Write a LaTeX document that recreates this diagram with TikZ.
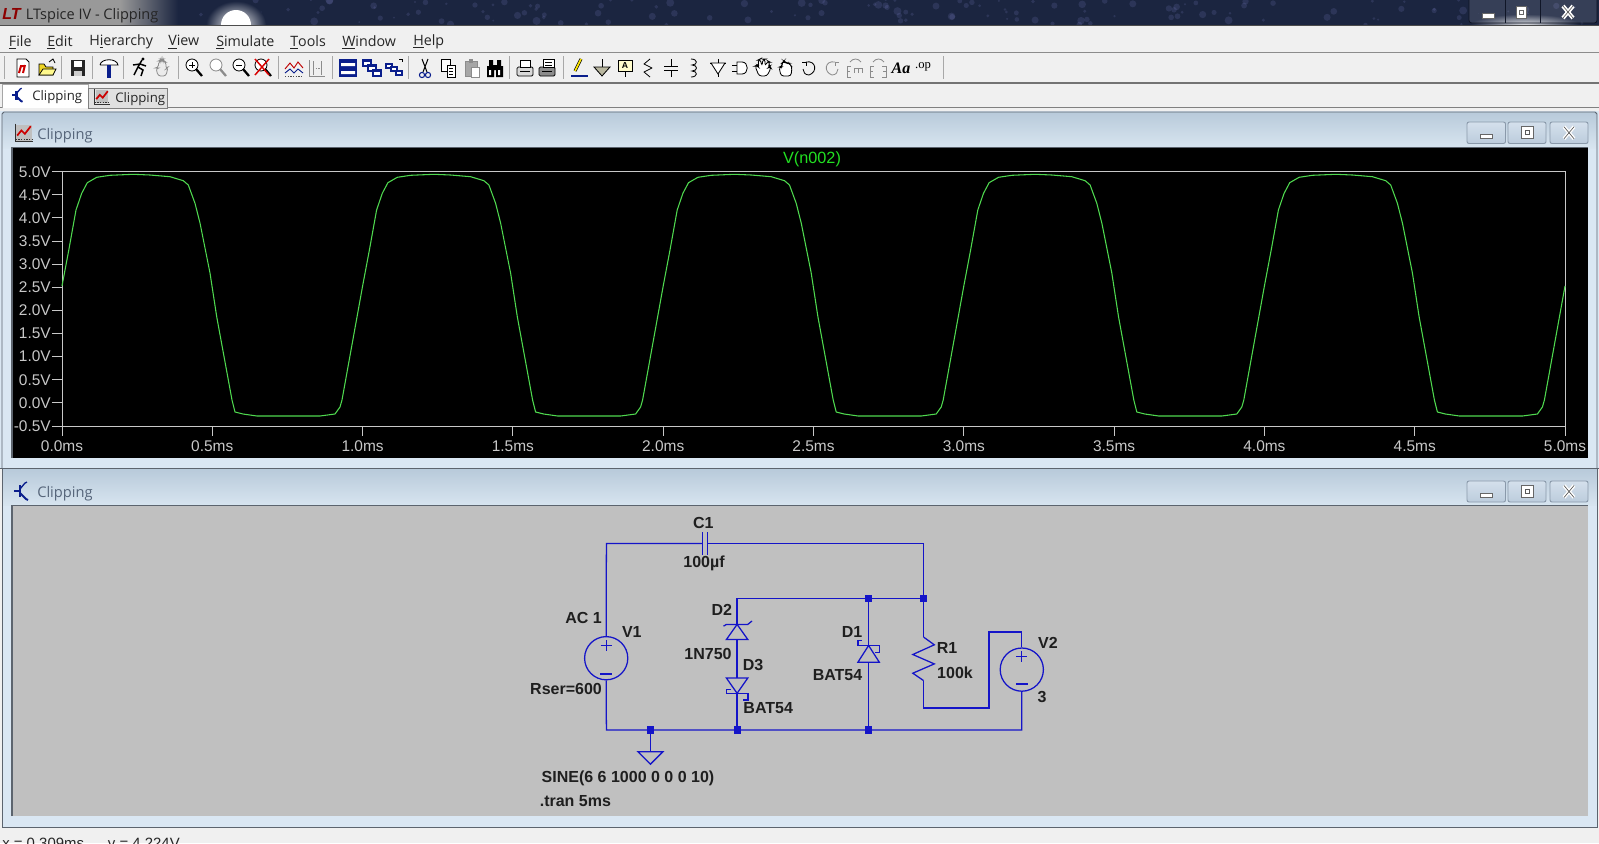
\documentclass[tikz,border=0pt]{standalone}
\usepackage{fontspec}
\setmainfont{Liberation Sans}
\newfontfamily\uifont{Open Sans}
\newfontfamily\serifui{Liberation Serif}
\usetikzlibrary{shapes.geometric,calc}
\definecolor{navy}{HTML}{1B2540}
\definecolor{chrome}{HTML}{F0F0F0}
\definecolor{capTop}{HTML}{B8CADA}
\definecolor{capBot}{HTML}{D8E5F0}
\definecolor{frameC}{HTML}{DAE7F3}
\definecolor{edgeC}{HTML}{5C646E}
\definecolor{capText}{HTML}{56657A}
\definecolor{axisC}{HTML}{C8C8C8}
\definecolor{waveC}{HTML}{4FD84F}
\definecolor{traceC}{HTML}{22E022}
\definecolor{wireC}{HTML}{1414C8}
\definecolor{canvasC}{HTML}{C0C0C0}
\definecolor{btnTop}{HTML}{D4E0EC}
\definecolor{btnBot}{HTML}{BCCCDC}
\definecolor{btnEdge}{HTML}{8A99AA}
\definecolor{sepC}{HTML}{A8A8A8}
\definecolor{icoBlue}{HTML}{0A1E8C}
\tikzset{
  lbl/.style={font=\fontsize{12}{14}\selectfont\bfseries,text=black!88,inner sep=0pt},
  axlbl/.style={font=\fontsize{11.6}{14}\selectfont,text=axisC,inner sep=0pt},
  menulbl/.style={font=\uifont\fontsize{10.7}{13}\selectfont,text=black!85,inner sep=0pt,anchor=west},
  caplbl/.style={font=\uifont\fontsize{11}{13}\selectfont,text=capText,inner sep=0pt,anchor=west},
  tablbl/.style={font=\uifont\fontsize{9.9}{12}\selectfont,text=black!85,inner sep=0pt,anchor=west},
  wire/.style={draw=wireC,line width=.95pt},
  dot/.style={fill=wireC,draw=none,minimum size=5.4pt,inner sep=0pt,rectangle},
  srcnode/.style={circle,draw=wireC,line width=.95pt,minimum size=32.4pt,inner sep=0pt},
  wave/.style={draw=waveC,line width=.8pt,line join=round},
  tickline/.style={draw=axisC,line width=.75pt},
  ibk/.style={draw=black,line width=.62pt},
  igr/.style={draw=black!45,line width=.62pt},
}
\newcommand{\winbtn}[5]{\path[draw=btnEdge,line width=.7pt,rounded corners=1.5pt,top color=btnTop,bottom color=btnBot] (#1,#3) rectangle (#2,#4);
  \begin{scope}[shift={({(#1+#2)/2},{(#3+#4)/2})}]#5\end{scope}}
\newcommand{\ico}[2]{\begin{scope}[shift={(#1,68)}]#2\end{scope}}
\newcommand{\glassMin}{\fill[white,draw=black!60,line width=.5pt] (-6,1) rectangle (6,6);}
\newcommand{\glassMax}{\fill[white,draw=black!60,line width=.5pt] (-5,-6) rectangle (5,6);\draw[black!60,line width=.6pt] (-2,-2) rectangle (2,2);}
\newcommand{\glassX}{\draw[white,line width=3pt] (-5,-6)--(5,6) (5,-6)--(-5,6);\draw[black!65,line width=.5pt] (-5,-6)--(5,6) (5,-6)--(-5,6);}
\newcommand{\sicon}{\fill[black!25] (-9,-10) rectangle (9,9);
  \draw[black!80,line width=.9pt] (-10,-11)--(-10,10)--(11,10);
  \draw[black!80,line width=.6pt,dash pattern=on 1pt off 1pt] (-10,8)--(11,8);
  \draw[red!80!black,line width=1.3pt] (-8,3)--(-3,-3)--(1,1)--(8,-8);}
\newcommand{\ticon}{\draw[icoBlue,line width=1.5pt] (-8,0)--(-2,0);
  \draw[icoBlue,line width=1.6pt] (-2,-6)--(-2,6);
  \draw[icoBlue,line width=1pt] (-2,-2)--(3,-8)--(5,-9);
  \draw[icoBlue,line width=1.4pt] (-2,2)--(4,8)--(6,9);}
\begin{document}
\begin{tikzpicture}[x=.75pt,y=-.75pt]
\useasboundingbox (0,0) rectangle (1599,843);
\clip (0,0) rectangle (1599,843);
% ---- overall background
\fill[chrome] (0,0) rectangle (1599,843);
% ---- title bar
\fill[navy] (0,0) rectangle (1599,25);
\begin{scope}
\clip (0,0) rectangle (1599,25);
\pgfmathsetseed{11}
\foreach \i in {1,...,170}{
  \pgfmathsetmacro\ax{rnd*1599}
  \pgfmathsetmacro\ay{rnd*25}
  \pgfmathsetmacro\ar{1+rnd*3}
  \fill[blue!35!white,opacity=.13] (\ax,\ay) circle[radius=\ar];
}
\fill[black!40] (0,0) rectangle (120,25);
\shade[left color=black!40,right color=navy] (120,0) rectangle (178,25);
\shade[inner color=white,outer color=navy] (236,25) ellipse[x radius=30,y radius=24];
\fill[white] (236,25) ellipse[x radius=15,y radius=15];
\shade[inner color=white!85!navy,outer color=navy] (1470,14) rectangle (1580,36);
\end{scope}
\node[inner sep=0pt,anchor=west,text=red!55!black,font=\fontsize{12}{14}\selectfont\bfseries\itshape] (logo) at (2,14) {LT};
\node[inner sep=0pt,anchor=west,text=black!85,font=\uifont\fontsize{10.9}{13}\selectfont] (title) at (25.5,15.5) {LTspice IV - Clipping};
\draw[black!70,line width=.8pt] (0,25.5)--(1599,25.5);
% main window buttons
\path[draw=black!45!navy,line width=.6pt,rounded corners=2pt,fill=white,fill opacity=.12] (1469,-3) rectangle (1597,23);
\draw[black!40!navy,line width=.5pt] (1505,0)--(1505,23) (1540,0)--(1540,23);
\begin{scope}[shift={(1488,12)}]\glassMin\end{scope}
\begin{scope}[shift={(1521,12)}]\glassMax\end{scope}
\begin{scope}[shift={(1568,12)}]\glassX\end{scope}
% ---- menu bar
\draw[black!45,line width=.8pt] (0,52.5)--(1599,52.5);
\node[menulbl] (mFile) at (8.7,42) {\underline{F}ile};
\node[menulbl] (mEdit) at (47,42) {\underline{E}dit};
\node[menulbl] (mHier) at (89,42) {H\underline{i}erarchy};
\node[menulbl] (mView) at (168,42) {\underline{V}iew};
\node[menulbl] (mSim) at (216,42) {\underline{S}imulate};
\node[menulbl] (mTools) at (290,42) {\underline{T}ools};
\node[menulbl] (mWin) at (342,42) {\underline{W}indow};
\node[menulbl] (mHelp) at (413,42) {\underline{H}elp};
% ---- toolbar
\draw[black!55,line width=.9pt] (0,83)--(1599,83);
\foreach \sx in {4,61,92,123,178,278,332,408,509,563,943}{\draw[sepC,line width=.7pt] (\sx,56)--(\sx,79);}
\ico{23}{\draw[ibk,fill=white] (-6,-9)--(3,-9)--(6,-6)--(6,9)--(-6,9)--cycle;\draw[red!80!black,line width=1.5pt] (-4,5)--(-2,-2)--(1,-2) (0,5)--(2,-3);}
\ico{47}{\draw[ibk,fill=yellow!70!brown] (-8,7)--(-8,-4)--(-3,-4)--(-1,-1)--(6,-1)--(6,7)--cycle;\draw[ibk,fill=yellow!45!white] (-8,7)--(-4,1)--(9,1)--(6,7)--cycle;\draw[ibk] (2,-6)--(6,-9)--(8,-5);}
\ico{78}{\fill[black!85] (-7,-8) rectangle (7,8);\fill[white] (-4,-7) rectangle (4,-1);\fill[black!20] (-4,3) rectangle (4,8);}
\ico{109}{\draw[ibk,fill=white] (-9,-3) .. controls (-8,-10) and (8,-10) .. (9,-3) -- (-9,-3);\fill[icoBlue] (-1.8,-3) rectangle (1.8,10);}
\ico{139}{\draw[black,line width=1.1pt] (3,-8)--(-1,-1)--(-5,7) (-1,-1)--(4,2)--(2,8) (-6,-3)--(1,-4)--(7,-2);\fill (4,-9) circle[radius=1.6];}
\ico{162}{\draw[igr,fill=black!8,rounded corners=2pt] (-4,8)--(-6,0)--(-4,0)--(-3,-7)--(-1,-7)--(-1,-9)--(1,-9)--(1,-7)--(4,-6)--(4,1)--(6,-1)--(4,8)--cycle;}
\ico{194}{\draw[ibk,fill=white] (-2,-3) circle[radius=6];\draw[black,line width=1.7pt] (2,1)--(8,8);\draw[black,line width=.6pt] (-5,-3)--(1,-3) (-2,-6)--(-2,0);}
\ico{218}{\draw[igr,fill=white] (-2,-3) circle[radius=6];\draw[black!45,line width=1.7pt] (2,1)--(8,8);}
\ico{241}{\draw[ibk,fill=white] (-2,-3) circle[radius=6];\draw[black,line width=1.7pt] (2,1)--(8,8);\draw[black,line width=.6pt] (-5,-3)--(1,-3);}
\ico{263}{\draw[ibk,fill=white] (-2,-3) circle[radius=6];\draw[black,line width=1.7pt] (2,1)--(8,8);\draw[red!85!black,line width=1.1pt] (-8,-9)--(6,7) (6,-9)--(-8,7);}
\ico{294}{\draw[black!70,line width=.7pt,dash pattern=on 1pt off 1pt] (-9,8)--(9,8);\draw[red!75!black,line width=.7pt] (-9,1)--(-4,-5)--(0,0)--(4,-6)--(9,0);\draw[icoBlue,line width=.7pt] (-9,5)--(-4,1)--(0,5)--(4,1)--(9,5);}
\ico{317}{\draw[igr] (-8,-8)--(-8,8)--(8,8) (-4,-7)--(-4,7) (4,-7)--(4,7);\draw[igr,dash pattern=on 1pt off 1pt] (-4,0)--(4,0);}
\ico{348}{\fill[icoBlue] (-9,-9) rectangle (9,9);\fill[white] (-7,-5) rectangle (7,-2) (-7,3) rectangle (7,6);}
\ico{371}{\foreach \d in {0,5,10}{\fill[icoBlue] (-9+\d,-9+\d) rectangle (1+\d,-1+\d);\fill[white] (-7+\d,-6+\d) rectangle (-1+\d,-3+\d);}}
\ico{394}{\foreach \d in {0,5,10}{\fill[icoBlue] (-9+\d,-5+\d/1.5) rectangle (-1+\d,1+\d/1.5);\fill[white] (-7+\d,-3+\d/1.5) rectangle (-3+\d,-1+\d/1.5);}\draw[black,line width=.7pt] (5,-9)--(8,-9)--(8,-6);}
\ico{425}{\draw[black,line width=.75pt] (-3,-9)--(2,4) (3,-9)--(-2,4);\draw[icoBlue,line width=.8pt] (-3,7) circle[radius=2.6] (3,7) circle[radius=2.6];}
\ico{448}{\draw[ibk,fill=white] (-7,-9) rectangle (2,3);\draw[ibk,fill=white] (-1,-3) rectangle (7,9);\draw[black,line width=.5pt] (1,0)--(5,0) (1,3)--(5,3) (1,6)--(5,6);}
\ico{472}{\draw[igr,fill=black!35] (-7,-7) rectangle (5,8);\draw[igr,fill=white] (-1,-1) rectangle (7,9);\fill[black!45] (-3,-9) rectangle (1,-5);}
\ico{495}{\fill[black] (-8,-2) rectangle (-1,9) (1,-2) rectangle (8,9) (-6,-8) rectangle (-2,-2) (2,-8) rectangle (6,-2) (-2,-3) rectangle (2,2);\fill[white] (-6,2) rectangle (-4,7) (3,2) rectangle (5,7);}
\ico{525}{\draw[ibk,fill=black!15,rounded corners=1pt] (-8,-1) rectangle (8,8);\draw[ibk,fill=white] (-5,-8) rectangle (5,-1);\draw[black,line width=.5pt] (-5,3)--(5,3);}
\ico{547}{\draw[ibk,fill=black!45,rounded corners=1pt] (-8,-1) rectangle (8,8);\draw[ibk,fill=white] (-4,-9) rectangle (7,-1);\draw[black,line width=.5pt] (-2,-6)--(5,-6) (-2,-3)--(5,-3) (-5,3)--(5,3);}
\ico{579}{\draw[black,line width=2.3pt] (-4,3)--(2,-9);\draw[yellow!90!orange,line width=1.3pt] (-4,3)--(2,-9);\draw[icoBlue,line width=.9pt] (-7,7)--(-7,8)--(9,8);}
\ico{602}{\draw[ibk] (0,-9)--(0,-1);\draw[ibk,fill=yellow!30!black!45] (-8,-1)--(8,-1)--(0,8)--cycle;}
\ico{625}{\draw[ibk,fill=yellow!20] (-7,-8) rectangle (7,3);\node[inner sep=0pt,font=\bfseries\fontsize{6.5}{7}\selectfont] (icoA) at (0,-2.5) {A};\draw[ibk] (0,3)--(0,9);}
\ico{648}{\draw[ibk,line join=round] (2,-9)--(-4,-4)--(4,0)--(-4,4)--(2,9);}
\ico{671}{\draw[ibk] (0,-9)--(0,-2) (-7,-2)--(7,-2) (-7,2)--(7,2) (0,2)--(0,9);}
\ico{693}{\draw[ibk] (-2,-9) .. controls (5,-9) and (5,-3) .. (-1,-3) .. controls (5,-3) and (5,3) .. (-1,3) .. controls (5,3) and (5,9) .. (-2,9);}
\ico{718}{\draw[ibk] (0,-9)--(0,9) (-8,-5)--(8,-5);\draw[ibk,fill=white] (-7,-5)--(7,-5)--(0,6)--cycle;}
\ico{740}{\draw[ibk,fill=white] (-3,-6)--(2,-6) .. controls (9,-6) and (9,6) .. (2,6) -- (-3,6) -- cycle;\draw[ibk] (-8,-3)--(-3,-3) (-8,3)--(-3,3);}
\ico{763}{\draw[ibk,fill=white,rounded corners=2pt] (-4,8)--(-8,-2)--(-6,-3)--(-4,0)--(-5,-8)--(-3,-9)--(-1,-2)--(0,-9)--(2,-9)--(2,-2)--(5,-7)--(7,-6)--(5,0)--(7,-2)--(8,0)--(4,8)--cycle;}
\ico{786}{\draw[ibk,fill=white,rounded corners=2pt] (-5,8)--(-7,-1)--(-4,-1)--(-4,-5)--(-2,-7)--(0,-5)--(3,-5)--(6,-1)--(5,8)--cycle;}
\ico{809}{\draw[ibk] (-3,-6) .. controls (7,-8) and (9,4) .. (0,7) .. controls (-4,7) and (-6,4) .. (-6,1);\draw[ibk] (-7,-6)--(-3,-6)--(-3,-2);}
\ico{832}{\draw[igr] (3,-6) .. controls (-7,-8) and (-9,4) .. (0,7) .. controls (4,7) and (6,4) .. (6,1);\draw[igr] (7,-6)--(3,-6)--(3,-2);}
\ico{855}{\draw[igr] (-8,9)--(-8,-2)--(-4,-2) (-8,3)--(-5,3) (-8,9)--(-4,9) (-1,0)--(7,0) (-1,0)--(-1,5) (3,0)--(3,5) (7,0)--(7,5);\draw[igr] (-5,-6) .. controls (-2,-10) and (3,-10) .. (6,-6);}
\ico{878}{\draw[igr] (-8,9)--(-8,-2)--(-4,-2) (-8,3)--(-5,3) (-8,9)--(-4,9) (4,-2)--(8,-2)--(8,9)--(4,9) (5,3)--(8,3);\draw[igr] (-5,-6) .. controls (-2,-10) and (3,-10) .. (6,-6);}
\node[inner sep=0pt,font=\serifui\fontsize{12}{13}\selectfont\bfseries\itshape,text=black] (icoAa) at (901,68.5) {Aa};
\node[inner sep=0pt,font=\serifui\fontsize{9.5}{11}\selectfont,text=black] (icoOp) at (923,67) {.op};
% ---- tabs
\draw[black!50,line width=.8pt] (0,107.5)--(1599,107.5);
\fill[white] (2,84) rectangle (88,108);
\draw[black!35,line width=.6pt] (2,108)--(2,84)--(88,84)--(88,108);
\path[draw=black!50,line width=.7pt,fill=black!12] (88,88) rectangle (167,108);
\begin{scope}[shift={(18,95)},scale=.75]\ticon\end{scope}
\begin{scope}[shift={(102,97)},scale=.72]\sicon\end{scope}
\node[tablbl] (tab1) at (32,97) {Clipping};
\node[tablbl] (tab2) at (115,99.5) {Clipping};
% ---- plot window
\fill[frameC] (0,111) rectangle (1599,468);
\path[top color=capTop,bottom color=capBot] (2,112) rectangle (1597,148);
\draw[edgeC,line width=.7pt] (2,468)--(2,114)--(4,112)--(1595,112)--(1597,114)--(1597,468);
\fill[black] (12,148) rectangle (1588,458);
\draw[edgeC,line width=.9pt] (12,458)--(12,147.5)--(1588,147.5);
\begin{scope}[shift={(24,133)},scale=.85]\sicon\end{scope}
\node[caplbl] (capA) at (37,136) {Clipping};
\winbtn{1467}{1505.5}{122}{143.5}{\fill[white,draw=black!60,line width=.5pt] (-6,2) rectangle (6,6);}
\winbtn{1508}{1546}{122}{143.5}{\fill[white,draw=black!60,line width=.5pt] (-6,-6) rectangle (6,6);\draw[black!65,line width=.7pt] (-2,-2) rectangle (2,2);}
\winbtn{1550}{1588}{122}{143.5}{\draw[white,line width=2.6pt] (-5,-6)--(5,6) (5,-6)--(-5,6);\draw[black!65,line width=.5pt] (-5,-6)--(5,6) (5,-6)--(-5,6);}
% plot frame and ticks
\draw[tickline] (62,171.7) rectangle (1565,426);
\foreach \vv [count=\i from 0] in {5.0,4.5,4.0,3.5,3.0,2.5,2.0,1.5,1.0,0.5,0.0,-0.5}{
  \pgfmathsetmacro\ty{171.7+\i*23.12}
  \draw[tickline] (52,\ty)--(62,\ty);
  \node[axlbl,anchor=east] (yl\i) at (51,\ty) {\vv V};
}
\foreach \tv [count=\i from 0] in {0.0,0.5,1.0,1.5,2.0,2.5,3.0,3.5,4.0,4.5,5.0}{
  \pgfmathsetmacro\tx{62+\i*150.3}
  \draw[tickline] (\tx,426)--(\tx,436);
  \node[axlbl] (xl\i) at (\tx,446) {\tv ms};
}
\node[inner sep=0pt,text=traceC,font=\fontsize{12.2}{14}\selectfont] (trace) at (812,159.5) {V(n002)};
\foreach \k in {0,...,4}{
\draw[wave,shift={({62+\k*300.6},0)}] plot coordinates {(0,286) (6.8,250) (14,210) (19.7,193.3) (25.3,182.7) (34.7,177.3) (48,175.3) (71.3,174.3) (88,175) (108,176.7) (121.3,180.7) (126.3,185) (133,203.3) (138,223) (148,273) (154.7,316.7) (170,400) (173,412) (181,414) (195,416) (258,416) (273,414) (278,407) (280,400) (300.6,286)};
}
% ---- schematic window
\path[top color=capTop,bottom color=capBot] (2,469) rectangle (1597,506);
\fill[frameC] (2,506) rectangle (1597,827);
\draw[edgeC,line width=.9pt] (0,468.5)--(1599,468.5);
\draw[edgeC,line width=.7pt] (2,468)--(2,827)--(1597,827)--(1597,468);
\fill[canvasC] (12,506) rectangle (1588,816);
\draw[edgeC,line width=.9pt] (12,816)--(12,505.5)--(1588,505.5);
\begin{scope}[shift={(22,491)}]\ticon\end{scope}
\node[caplbl] (capB) at (37,494) {Clipping};
\winbtn{1467}{1505.5}{481}{502}{\fill[white,draw=black!60,line width=.5pt] (-6,2) rectangle (6,6);}
\winbtn{1508}{1546}{481}{502}{\fill[white,draw=black!60,line width=.5pt] (-6,-6) rectangle (6,6);\draw[black!65,line width=.7pt] (-2,-2) rectangle (2,2);}
\winbtn{1550}{1588}{481}{502}{\draw[white,line width=2.6pt] (-5,-6)--(5,6) (5,-6)--(-5,6);\draw[black!65,line width=.5pt] (-5,-6)--(5,6) (5,-6)--(-5,6);}
% status
\node[inner sep=0pt,anchor=base west,text=black!85,font=\fontsize{11.2}{13}\selectfont] (status) at (2,848) {x = 0.309ms\hspace{1.6em}y = 4.224V};
% ---- circuit: named points
\coordinate (TL) at (606.4,543.5);
\coordinate (TR) at (923.6,543.5);
\coordinate (CL) at (702.5,543.5);
\coordinate (CR) at (707.5,543.5);
\coordinate (BL) at (606.4,730);
\coordinate (BR) at (1021.8,730);
\coordinate (MD2) at (737.1,598.7);
\node[srcnode] (V1) at (606.2,658.2) {};
\node[srcnode] (V2) at (1021.8,669.6) {};
\node[dot] (JG) at (650.4,730) {};
\node[dot] (JA) at (737.1,730) {};
\node[dot] (JB) at (868.6,730) {};
\node[dot] (JC) at (868.6,598.7) {};
\node[dot] (JD) at (923.6,598.7) {};
\coordinate (GT) at (650.4,751.8);
\coordinate (D2k) at (737.1,624.4);
\coordinate (D2a) at (737.1,639.5);
\coordinate (D3a) at (737.1,678);
\coordinate (D3k) at (737.1,693.3);
\coordinate (D1k) at (868.6,645.5);
\coordinate (D1a) at (868.6,662.2);
\coordinate (R1t) at (923.6,637.1);
\coordinate (R1b) at (923.6,680.6);
\coordinate (W1) at (923.6,708);
\coordinate (W2) at (989,708);
\coordinate (W3) at (989,632);
\coordinate (W4) at (1021.8,632);
% wires
\draw[wire,line join=miter] (V1.north)--(TL)--(CL);
\draw[wire] (CR)--(TR)--(JD.center);
\draw[wire] (V1.south)--(BL)--(BR)--(V2.south);
\draw[wire] (JG.center)--(GT);
\draw[wire] (JD.center)--(R1t);
\draw[wire] (JD.center)--(MD2)--(D2k);
\draw[wire] (D2a)--(D3a);
\draw[wire] (D3k)--(JA.center);
\draw[wire] (JC.center)--(D1k);
\draw[wire] (D1a)--(JB.center);
\draw[wire] (R1b)--(W1)--(W2)--(W3)--(W4)--(V2.north);
% capacitor
\draw[wire] (702.5,532.4)--(702.5,554.5) (707.5,532.4)--(707.5,554.5);
% resistor
\draw[wire,line join=miter] (R1t)--(934.3,644.8)--(912.8,654.5)--(934.3,663.9)--(912.8,673.2)--(R1b);
% ground
\draw[wire,line join=miter] (GT)--(638,751.8)--(650.4,764.2)--(662.8,751.8)--cycle;
% diodes
\draw[wire,line join=miter] (D2a)--(726.4,639.5)--(D2k)--(747.8,639.5)--cycle;
\draw[wire] (723.5,626.2)--(726.4,624.4)--(747.8,624.4)--(752,621);
\draw[wire,line join=miter] (D3a)--(726.4,678)--(D3k)--(747.8,678)--cycle;
\draw[wire] (731,689.3)--(726.5,689.3)--(726.5,693.3)--(747.9,693.3)--(747.9,700)--(743.2,700);
\draw[wire,line join=miter] (D1a)--(857.9,662.2)--(D1k)--(879.3,662.2)--cycle;
\draw[wire] (862.1,640.5)--(857.9,640.5)--(857.9,645.5)--(879.3,645.5)--(879.3,652.2)--(875.3,652.2);
% source signs
\draw[wire,line width=.8pt] ($(V1.center)+(-5.5,-12.7)$)--($(V1.center)+(5.5,-12.7)$) ($(V1.center)+(0,-18)$)--($(V1.center)+(0,-7)$);
\draw[wire,line width=.8pt] ($(V1.center)+(-6,15.8)$)--($(V1.center)+(6,15.8)$);
\draw[wire,line width=.8pt] ($(V2.center)+(-5.5,-13.1)$)--($(V2.center)+(5.5,-13.1)$) ($(V2.center)+(0,-18.4)$)--($(V2.center)+(0,-7.4)$);
\draw[wire,line width=.8pt] ($(V2.center)+(-6,14.4)$)--($(V2.center)+(6,14.4)$);
% labels
\node[lbl] (tC1) at (703.4,522.9) {C1};
\node[lbl] (tC1v) at (704,563.5) {100µf};
\node[lbl] (tAC) at (583.6,617.7) {AC 1};
\node[lbl] (tV1) at (631.8,631.8) {V1};
\node[lbl] (tRser) at (566,688.5) {Rser=600};
\node[lbl] (tD2) at (721.8,609.7) {D2};
\node[lbl] (tD2v) at (708,653.8) {1N750};
\node[lbl] (tD3) at (753,664.5) {D3};
\node[lbl] (tD3v) at (768.2,707.7) {BAT54};
\node[lbl] (tD1) at (852,631.8) {D1};
\node[lbl] (tD1v) at (837.5,674.6) {BAT54};
\node[lbl] (tR1) at (947,647.5) {R1};
\node[lbl] (tR1v) at (955,673) {100k};
\node[lbl] (tV2) at (1047.9,642.8) {V2};
\node[lbl] (tV2v) at (1042,696.7) {3};
\node[lbl] (tSine) at (628,778.3) {SINE(6 6 1000 0 0 0 10)};
\node[lbl] (tTran) at (575.4,801) {.tran 5ms};
\end{tikzpicture}
\end{document}
